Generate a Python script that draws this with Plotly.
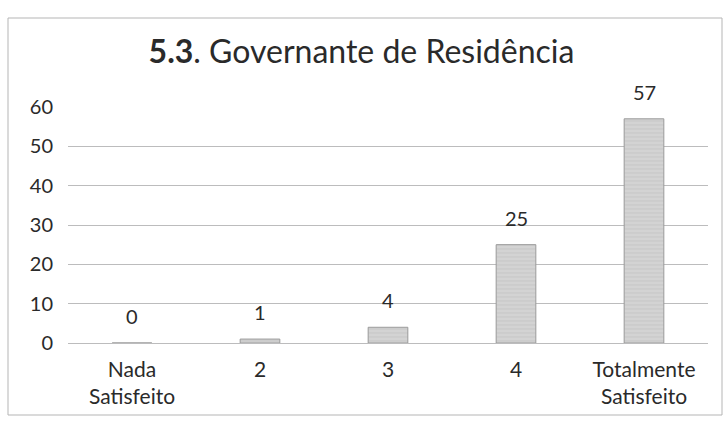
import plotly.graph_objects as go

categories = ["Nada<br>Satisfeito", "2", "3", "4", "Totalmente<br>Satisfeito"]
values = [0, 1, 4, 25, 57]
y_ticks = [0, 10, 20, 30, 40, 50, 60]

FONT = "Lato"
TXT = "#2a2a2a"

fig = go.Figure()
fig.add_trace(go.Bar(
    x=list(range(len(categories))), y=values, width=0.31,
    marker=dict(color="#d3d3d3", line=dict(color="#9a9a9a", width=1),
                pattern=dict(shape="-", fgcolor="#bdbdbd", size=4, solidity=0.3)),
    cliponaxis=False, hoverinfo="skip",
))
for i, v in enumerate(values):
    fig.add_annotation(x=i, y=v, xref="x", yref="y", text=str(v), showarrow=False,
                       yanchor="bottom", yshift=13,
                       font=dict(family=FONT, size=20, color=TXT))

fig.update_layout(
    width=723, height=425,
    margin=dict(l=68, r=15, t=107, b=82),
    paper_bgcolor="white", plot_bgcolor="white",
    showlegend=False,
    title=dict(text="<b>5.3</b>. Governante de Residência", x=0.5, xanchor="center",
               y=1 - 52 / 425, yanchor="middle",
               font=dict(family=FONT, size=32, color=TXT)),
    xaxis=dict(tickvals=list(range(len(categories))), ticktext=categories,
               range=[-0.5, len(categories) - 0.5],
               showgrid=False, showline=False, ticks="", ticklabelstandoff=12,
               tickfont=dict(family=FONT, size=21, color=TXT)),
    yaxis=dict(range=[0, 60], tickvals=y_ticks, showgrid=True, gridcolor="#bcbcbd",
               gridwidth=1, zeroline=True, zerolinecolor="#bcbcbd", zerolinewidth=1,
               ticks="", ticklabelstandoff=14,
               tickfont=dict(family=FONT, size=20, color=TXT)),
    shapes=[dict(type="rect", xref="paper", yref="paper",
                 x0=-60 / 640, x1=1 + 14 / 640, y0=-72 / 236, y1=1 + 89 / 236,
                 line=dict(color="#b5b5b5", width=1))],
)
fig.write_html("out.html")
